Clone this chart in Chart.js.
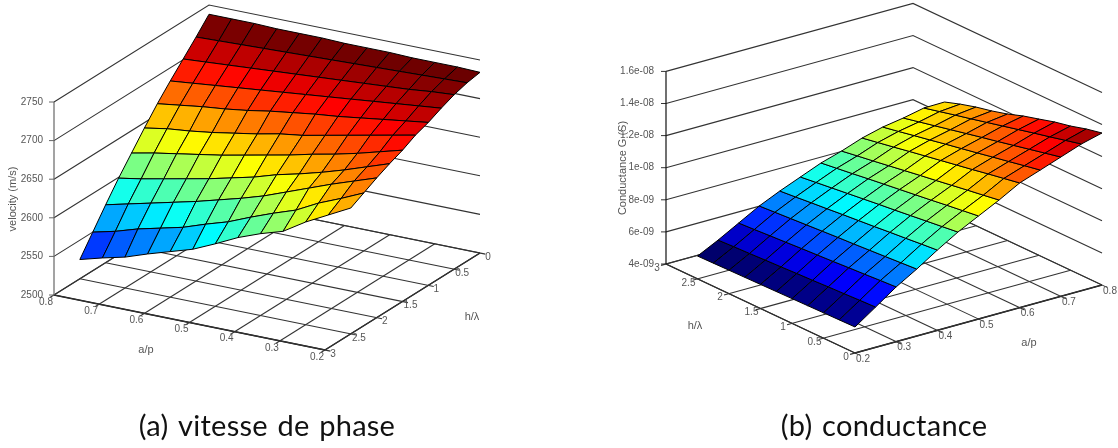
<!DOCTYPE html>
<html>
<head>
<meta charset="utf-8">
<script src="https://cdn.jsdelivr.net/npm/chart.js@4/dist/chart.umd.js"></script>
<style>
  html, body { margin: 0; padding: 0; background: #fff; }
  canvas { display: block; }
</style>
</head>
<body>
<canvas id="surfaces" width="1118" height="448"></canvas>
<script>
// grid of the two surfaces
const hGrid = [0, 0.25, 0.5, 0.75, 1, 1.25, 1.5, 1.75, 2, 2.25, 2.5];
const aGridDown = [0.8, 0.75, 0.7, 0.65, 0.6, 0.55, 0.5, 0.45, 0.4, 0.35, 0.3, 0.25, 0.2];
const aGridUp = [0.2, 0.25, 0.3, 0.35, 0.4, 0.45, 0.5, 0.55, 0.6, 0.65, 0.7, 0.75, 0.8];

// velocity (m/s): one row per hGrid value, one column per aGridDown value
const velocity = [
  [2738, 2738, 2738, 2737, 2737, 2737, 2736, 2736, 2736, 2735, 2735, 2735, 2734],
  [2719, 2720, 2721, 2722, 2723, 2724, 2725, 2726, 2727, 2728, 2729, 2730, 2731],
  [2701, 2703, 2705, 2707, 2709, 2711, 2713, 2715, 2717, 2719, 2721, 2724, 2726],
  [2683, 2686, 2689, 2692, 2695, 2698, 2701, 2704, 2707, 2710, 2713, 2716, 2719],
  [2664, 2668, 2672, 2675, 2679, 2684, 2688, 2692, 2695, 2699, 2703, 2707, 2711],
  [2643, 2648, 2651, 2655, 2660, 2665, 2671, 2675, 2681, 2687, 2693, 2699, 2705],
  [2621, 2627, 2632, 2637, 2642, 2648, 2654, 2660, 2667, 2673, 2680, 2688, 2696],
  [2599, 2604, 2610, 2616, 2622, 2629, 2636, 2645, 2652, 2660, 2669, 2679, 2689],
  [2575, 2582, 2589, 2596, 2603, 2611, 2619, 2628, 2639, 2650, 2661, 2671, 2681],
  [2550, 2557, 2566, 2573, 2580, 2590, 2599, 2611, 2622, 2632, 2647, 2659, 2672],
  [2525, 2533, 2540, 2550, 2559, 2568, 2581, 2595, 2606, 2615, 2633, 2648, 2663]
];

// conductance (1e-9 S): one row per aGridUp value, one column per hGrid value
const conductance = [
  [5.62, 5.60, 5.58, 5.56, 5.54, 5.52, 5.50, 5.48, 5.46, 5.44, 5.42],
  [6.51, 6.47, 6.42, 6.38, 6.33, 6.29, 6.24, 6.20, 6.15, 6.11, 6.06],
  [7.41, 7.35, 7.28, 7.22, 7.15, 7.09, 7.03, 6.96, 6.90, 6.83, 6.77],
  [8.17, 8.10, 8.03, 7.96, 7.89, 7.83, 7.76, 7.69, 7.62, 7.55, 7.48],
  [9.00, 8.91, 8.81, 8.72, 8.62, 8.53, 8.44, 8.34, 8.25, 8.15, 8.06],
  [9.77, 9.65, 9.53, 9.41, 9.29, 9.18, 9.06, 8.94, 8.82, 8.70, 8.58],
  [10.42, 10.29, 10.16, 10.02, 9.89, 9.76, 9.63, 9.50, 9.36, 9.23, 9.10],
  [11.06, 10.90, 10.75, 10.59, 10.43, 10.28, 10.12, 9.96, 9.80, 9.65, 9.49],
  [11.77, 11.59, 11.41, 11.22, 11.04, 10.86, 10.68, 10.50, 10.31, 10.13, 9.95],
  [12.22, 12.03, 11.83, 11.64, 11.44, 11.25, 11.06, 10.86, 10.67, 10.47, 10.28],
  [12.68, 12.46, 12.24, 12.02, 11.80, 11.59, 11.37, 11.15, 10.93, 10.71, 10.49],
  [13.14, 12.90, 12.66, 12.43, 12.19, 11.95, 11.71, 11.47, 11.24, 11.00, 10.76],
  [13.47, 13.26, 12.98, 12.77, 12.49, 12.22, 11.88, 11.61, 11.39, 11.11, 10.78]
];

// tick labels
const aTicks = [0.2, 0.3, 0.4, 0.5, 0.6, 0.7, 0.8];
const aTickLabels = ['0.2', '0.3', '0.4', '0.5', '0.6', '0.7', '0.8'];
const hTicks = [0, 0.5, 1, 1.5, 2, 2.5, 3];
const hTickLabels = ['0', '0.5', '1', '1.5', '2', '2.5', '3'];
const velocityTicks = [2500, 2550, 2600, 2650, 2700, 2750];
const velocityTickLabels = ['2500', '2550', '2600', '2650', '2700', '2750'];
const conductanceTicks = [4, 6, 8, 10, 12, 14, 16];
const conductanceTickLabels = ['4e-09', '6e-09', '8e-09', '1e-08', '1.2e-08', '1.4e-08', '1.6e-08'];

// where each box sits on the page (parallel projection)
const boxA = {
  origin: [480, 253], alongA: [-271, -55], alongH: [-155, 97],
  zMin: 2500, zMax: 2750, zHeight: 193,
  wallA: 0.8, wallH: 0, frontH: 3, frontA: 0.2,
  colorMin: 2500, colorMax: 2728
};
const boxB = {
  origin: [855, 353], alongA: [247, -68], alongH: [-189, -89],
  zMin: 4, zMax: 16, zHeight: 192.6,
  wallA: 0.8, wallH: 3, frontH: 0, frontA: 0.2,
  colorMin: 5.9, colorMax: 13.5
};

function project(box, a, h, z) {
  const u = (a - 0.2) / 0.6;
  const v = h / 3;
  return {
    x: box.origin[0] + u * box.alongA[0] + v * box.alongH[0],
    y: box.origin[1] + u * box.alongA[1] + v * box.alongH[1] - (z - box.zMin) / (box.zMax - box.zMin) * box.zHeight
  };
}

function jet(t) {
  const ramp = (x) => Math.max(0, Math.min(1, x));
  const r = ramp(Math.min(4 * t - 1.5, -4 * t + 4.5));
  const g = ramp(Math.min(4 * t - 0.5, -4 * t + 3.5));
  const b = ramp(Math.min(4 * t + 0.5, -4 * t + 2.5));
  return `rgb(${Math.round(r * 255)},${Math.round(g * 255)},${Math.round(b * 255)})`;
}

const datasets = [];

function addLine(points, color, width, order) {
  datasets.push({
    data: points, showLine: true, fill: false, pointRadius: 0,
    borderColor: color, borderWidth: width, tension: 0, order: order
  });
}

function addCell(points, color, order) {
  datasets.push({
    data: points.concat([points[0]]), showLine: true, fill: 'shape', pointRadius: 0,
    backgroundColor: color, borderColor: '#000', borderWidth: 1, tension: 0, order: order
  });
}

// walls, floor and ticks of one box
function addBox(box, zTicks) {
  const back = 100000;
  const gridColor = '#333';
  const zLow = box.zMin;
  zTicks.forEach((z) => {
    addLine([
      project(box, box.frontA, box.wallH, z),
      project(box, box.wallA, box.wallH, z),
      project(box, box.wallA, box.frontH, z)
    ], gridColor, 1.1, back);
  });
  const hOut = box.frontH === 3 ? 3.08 : -0.08;
  aTicks.forEach((a) => {
    addLine([project(box, a, box.wallH, zLow), project(box, a, hOut, zLow)], gridColor, 1.1, back);
  });
  hTicks.forEach((h) => {
    addLine([project(box, box.wallA, h, zLow), project(box, 0.188, h, zLow)], gridColor, 1.1, back);
  });
  // the two front edges of the floor
  addLine([project(box, 0.2, box.frontH, zLow), project(box, 0.8, box.frontH, zLow)], '#111', 1.3, back);
  addLine([project(box, 0.2, 0, zLow), project(box, 0.2, 3, zLow)], '#111', 1.3, back);
}

addBox(boxA, velocityTicks);
addBox(boxB, conductanceTicks);

// vertical axes
addLine([project(boxA, 0.8, 3, 2500), project(boxA, 0.8, 3, 2750)], '#666', 1.2, 90000);
velocityTicks.forEach((z) => {
  const p = project(boxA, 0.8, 3, z);
  addLine([p, { x: p.x - 5, y: p.y }], '#666', 1, 90000);
});
addLine([project(boxB, 0.2, 3, 4), project(boxB, 0.2, 3, 16)], '#111', 1.2, 90000);
conductanceTicks.forEach((z) => {
  const p = project(boxB, 0.2, 3, z);
  addLine([p, { x: p.x - 5, y: p.y }], '#333', 1, 90000);
});

// surface cells, far ones first
for (let i = 0; i < hGrid.length - 1; i++) {
  for (let j = 0; j < aGridDown.length - 1; j++) {
    const corners = [[i, j], [i, j + 1], [i + 1, j + 1], [i + 1, j]];
    const mean = corners.reduce((s, c) => s + velocity[c[0]][c[1]], 0) / 4;
    const pts = corners.map((c) => project(boxA, aGridDown[c[1]], hGrid[c[0]], velocity[c[0]][c[1]]));
    addCell(pts, jet((mean - boxA.colorMin) / (boxA.colorMax - boxA.colorMin)), 5000 - 100 * i + 100 - j);
  }
}
for (let j = 0; j < aGridUp.length - 1; j++) {
  for (let i = 0; i < hGrid.length - 1; i++) {
    const corners = [[j, i], [j, i + 1], [j + 1, i + 1], [j + 1, i]];
    const mean = corners.reduce((s, c) => s + conductance[c[0]][c[1]], 0) / 4;
    const pts = corners.map((c) => project(boxB, aGridUp[c[0]], hGrid[c[1]], conductance[c[0]][c[1]]));
    addCell(pts, jet((mean - boxB.colorMin) / (boxB.colorMax - boxB.colorMin)), 15000 - 100 * j + i);
  }
}

// text drawn through the chart's scales
const tickFont = '10px "Liberation Sans"';
const titleFont = '11px "Liberation Sans"';
const captionFont = '29px Lato';
const labels = [];
function addText(text, point, align, font, color, rotate) {
  labels.push({ text, point, align: align, font: font, color: color || '#555', rotate: rotate || 0 });
}
function shift(p, dx, dy) { return { x: p.x + dx, y: p.y + dy }; }

velocityTicks.forEach((z, k) => addText(velocityTickLabels[k], shift(project(boxA, 0.8, 3, z), -11, 0), 'right', tickFont));
aTicks.forEach((a, k) => addText(aTickLabels[k], shift(project(boxA, a, 3, 2500), -8, 7), 'center', tickFont));
hTicks.forEach((h, k) => addText(hTickLabels[k], shift(project(boxA, 0.2, h, 2500), 8, 4), 'center', tickFont));
addText('velocity (m/s)', { x: 13, y: 199 }, 'center', titleFont, null, -Math.PI / 2);
addText('a/p', { x: 146, y: 350 }, 'center', titleFont);
addText('h/\u03bb', { x: 472, y: 317 }, 'center', titleFont);

conductanceTicks.forEach((z, k) => addText(conductanceTickLabels[k], shift(project(boxB, 0.2, 3, z), -12, 0), 'right', tickFont));
aTicks.forEach((a, k) => addText(aTickLabels[k], shift(project(boxB, a, 0, 4), 8, 6), 'center', tickFont));
hTicks.forEach((h, k) => addText(hTickLabels[k], shift(project(boxB, 0.2, h, 4), -9, 4), 'center', tickFont));
addText('Conductance G (S)', { x: 623, y: 168 }, 'center', titleFont, null, -Math.PI / 2);
addText('a/p', { x: 1029, y: 343 }, 'center', titleFont);
addText('h/\u03bb', { x: 695, y: 326 }, 'center', titleFont);

addText('(a) vitesse de phase', { x: 267, y: 427 }, 'center', captionFont, '#111');
addText('(b) conductance', { x: 884, y: 427 }, 'center', captionFont, '#111');

const textPlugin = {
  id: 'boxText',
  afterDraw(chart) {
    const { ctx, scales } = chart;
    labels.forEach((l) => {
      ctx.save();
      ctx.translate(scales.x.getPixelForValue(l.point.x), scales.y.getPixelForValue(l.point.y));
      ctx.rotate(l.rotate);
      ctx.font = l.font;
      ctx.fillStyle = l.color;
      ctx.textAlign = l.align;
      ctx.textBaseline = 'middle';
      if (l.font === captionFont) {
        ctx.letterSpacing = '0.25px';
        ctx.wordSpacing = '2px';
      }
      ctx.fillText(l.text, 0, 0);
      ctx.restore();
    });
  }
};

new Chart(document.getElementById('surfaces').getContext('2d'), {
  type: 'scatter',
  data: { datasets: datasets },
  options: {
    responsive: false,
    animation: false,
    layout: { padding: 0 },
    scales: {
      x: { type: 'linear', min: 0, max: 1118, display: false },
      y: { type: 'linear', min: 0, max: 448, reverse: true, display: false }
    },
    plugins: { legend: { display: false }, tooltip: { enabled: false }, title: { display: false } }
  },
  plugins: [textPlugin]
});
</script>
</body>
</html>
